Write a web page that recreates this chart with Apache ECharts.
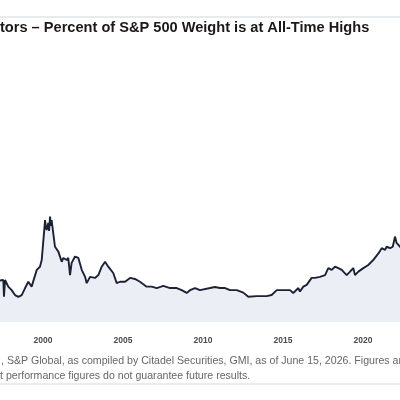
<!DOCTYPE html>
<html>
<head>
<meta charset="utf-8">
<title>Percent of S&P 500 Weight</title>
<script src="https://cdn.jsdelivr.net/npm/echarts@6/dist/echarts.min.js"></script>
<style>
  html, body { margin: 0; padding: 0; background: #ffffff; }
  #chart { width: 400px; height: 400px; }
</style>
</head>
<body>
<div id="chart"></div>
<script>
// 数据：年份（小数）和权重百分比
const years = [
  1997.2, 1997.31, 1997.52, 1997.56, 1997.63, 1997.83, 1998.04, 1998.25, 1998.46, 1998.67,
  1998.88, 1999.08, 1999.29, 1999.39, 1999.61, 1999.81, 1999.92, 2000.13, 2000.18, 2000.23,
  2000.33, 2000.38, 2000.44, 2000.49, 2000.54, 2000.64, 2000.75, 2000.96, 2001.17, 2001.27,
  2001.48, 2001.58, 2001.69, 2001.79, 2002.0, 2002.21, 2002.42, 2002.63, 2002.73, 2002.94,
  2003.25, 2003.46, 2003.67, 2003.88, 2004.08, 2004.39, 2004.61, 2004.81, 2005.13, 2005.44,
  2005.75, 2006.06, 2006.48, 2006.79, 2007.11, 2007.52, 2007.94, 2008.36, 2008.67, 2008.98,
  2009.19, 2009.5, 2009.81, 2010.44, 2010.75, 2011.06, 2011.38, 2011.69, 2012.11, 2012.52,
  2012.83, 2013.36, 2013.98, 2014.29, 2014.61, 2015.02, 2015.44, 2015.64, 2015.96, 2016.06,
  2016.27, 2016.48, 2016.79, 2017.0, 2017.31, 2017.63, 2017.83, 2018.04, 2018.25, 2018.46,
  2018.67, 2018.98, 2019.19, 2019.39, 2019.5, 2019.71, 2020.02, 2020.33, 2020.64, 2020.96,
  2021.17, 2021.38, 2021.48, 2021.69, 2021.86, 2022.0, 2022.1, 2022.21, 2022.31, 2022.4
]
const weights = [
  11.8, 11.5, 12.0, 7.2, 12.0, 10.1, 9.1, 7.7, 7.2, 7.7,
  9.7, 11.5, 10.1, 9.7, 14.9, 15.8, 17.7, 29.1, 27.0, 26.3,
  28.3, 26.0, 30.1, 27.5, 29.1, 25.4, 21.5, 20.1, 17.2, 18.3,
  17.7, 18.3, 13.4, 16.9, 18.7, 18.3, 14.9, 12.9, 11.1, 12.9,
  12.6, 13.4, 15.8, 17.2, 15.8, 14.0, 11.1, 11.5, 11.5, 12.6,
  12.3, 11.5, 10.1, 10.1, 9.7, 10.3, 9.7, 9.7, 9.1, 8.3,
  9.1, 9.7, 9.1, 9.7, 10.0, 9.7, 9.7, 9.1, 9.1, 8.4,
  7.2, 7.4, 7.4, 7.7, 9.1, 9.1, 9.1, 8.3, 9.7, 8.7,
  10.1, 10.6, 12.6, 12.6, 12.9, 13.4, 15.4, 14.9, 15.8, 15.4,
  14.9, 13.4, 14.4, 15.4, 13.4, 14.4, 15.4, 16.3, 17.7, 19.6,
  21.1, 20.6, 21.5, 21.1, 21.5, 24.4, 22.6, 22.5, 21.5, 21.0
]
// x 轴刻度
const xMin = 1995
const xMax = 2030
const xStep = 5

const titleText = 'tors – Percent of S&P 500 Weight is at All-Time Highs'
const noteLine1 = ', S&P Global, as compiled by Citadel Securities, GMI, as of June 15, 2026. Figures are'
const noteLine2 = 't performance figures do not guarantee future results.'

const seriesData = years.map((y, i) => [y, weights[i]])

const myChart = echarts.init(document.getElementById('chart'))
myChart.setOption({
  animation: false,
  backgroundColor: '#ffffff',
  grid: {
    top: 42,
    bottom: 78,
    left: -37, // 图被裁剪，左右伸出画布
    right: -123,
    outerBoundsMode: 'none'
  },
  xAxis: {
    type: 'value',
    min: xMin,
    max: xMax,
    interval: xStep,
    axisLine: { show: false },
    axisTick: { show: false },
    splitLine: { show: false },
    axisLabel: {
      margin: 14,
      color: '#4a4a4a',
      fontSize: 8.5,
      fontWeight: 'bold',
      fontFamily: 'Liberation Sans',
      formatter: v => String(v)
    }
  },
  yAxis: {
    type: 'value',
    min: 0,
    max: 80,
    show: false
  },
  series: [{
    type: 'line',
    data: seriesData,
    showSymbol: false,
    smooth: false,
    lineStyle: { color: '#1c2235', width: 1.9 },
    areaStyle: { color: '#eceef5', opacity: 1 }
  }],
  graphic: [
    // 顶部分隔线
    {
      type: 'line',
      shape: { x1: 0, y1: 17, x2: 400, y2: 17 },
      style: { stroke: '#cfd6e0', lineWidth: 1 }
    },
    {
      type: 'text',
      left: 0,
      top: 20,
      style: {
        text: titleText,
        fill: '#1a1a1a',
        font: 'bold 14.6px "Liberation Sans", Arial, sans-serif'
      }
    },
    // 脚注
    {
      type: 'text',
      left: 1,
      top: 356,
      style: {
        text: noteLine1,
        fill: '#666666',
        font: '10.6px "Liberation Sans", Arial, sans-serif'
      }
    },
    {
      type: 'text',
      left: 0,
      top: 371,
      style: {
        text: noteLine2,
        fill: '#666666',
        font: '10.6px "Liberation Sans", Arial, sans-serif'
      }
    },
    {
      type: 'line',
      shape: { x1: 0, y1: 384, x2: 400, y2: 384 },
      style: { stroke: '#d3dae3', lineWidth: 1 }
    }
  ]
})
</script>
</body>
</html>
